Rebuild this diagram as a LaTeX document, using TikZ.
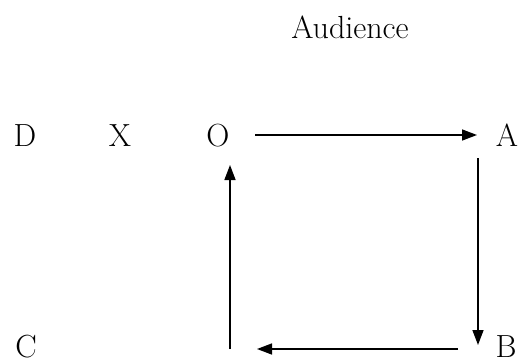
\documentclass[tikz,border=0pt]{standalone}
\usetikzlibrary{arrows.meta}
\begin{document}
\begin{tikzpicture}[x=1pt,y=1pt,
  lbl/.style={inner sep=0pt,anchor=base,font=\fontsize{32}{36}\selectfont},
  flow/.style={line width=1.5pt,-{Triangle[length=15pt,width=11pt]}}]
\useasboundingbox (0,0) rectangle (520,360);
\node[lbl] (aud) at (350,322) {Audience};
\node[lbl] (D) at (25,214) {D};
\node[lbl] (X) at (120,214) {X};
\node[lbl] (O) at (218,214) {O};
\node[lbl] (A) at (507,214) {A};
\node[lbl] (B) at (506,3) {B};
\node[lbl] (C) at (26,3) {C};
\coordinate (oa1) at (255,225);
\coordinate (oa2) at (477,225);
\coordinate (ab1) at (478,202);
\coordinate (ab2) at (478,15);
\coordinate (bc1) at (458,11);
\coordinate (bc2) at (257,11);
\coordinate (co1) at (230,11);
\coordinate (co2) at (230,195);
\draw[flow] (oa1) -- (oa2);
\draw[flow] (ab1) -- (ab2);
\draw[flow] (bc1) -- (bc2);
\draw[flow] (co1) -- (co2);
\end{tikzpicture}
\end{document}
